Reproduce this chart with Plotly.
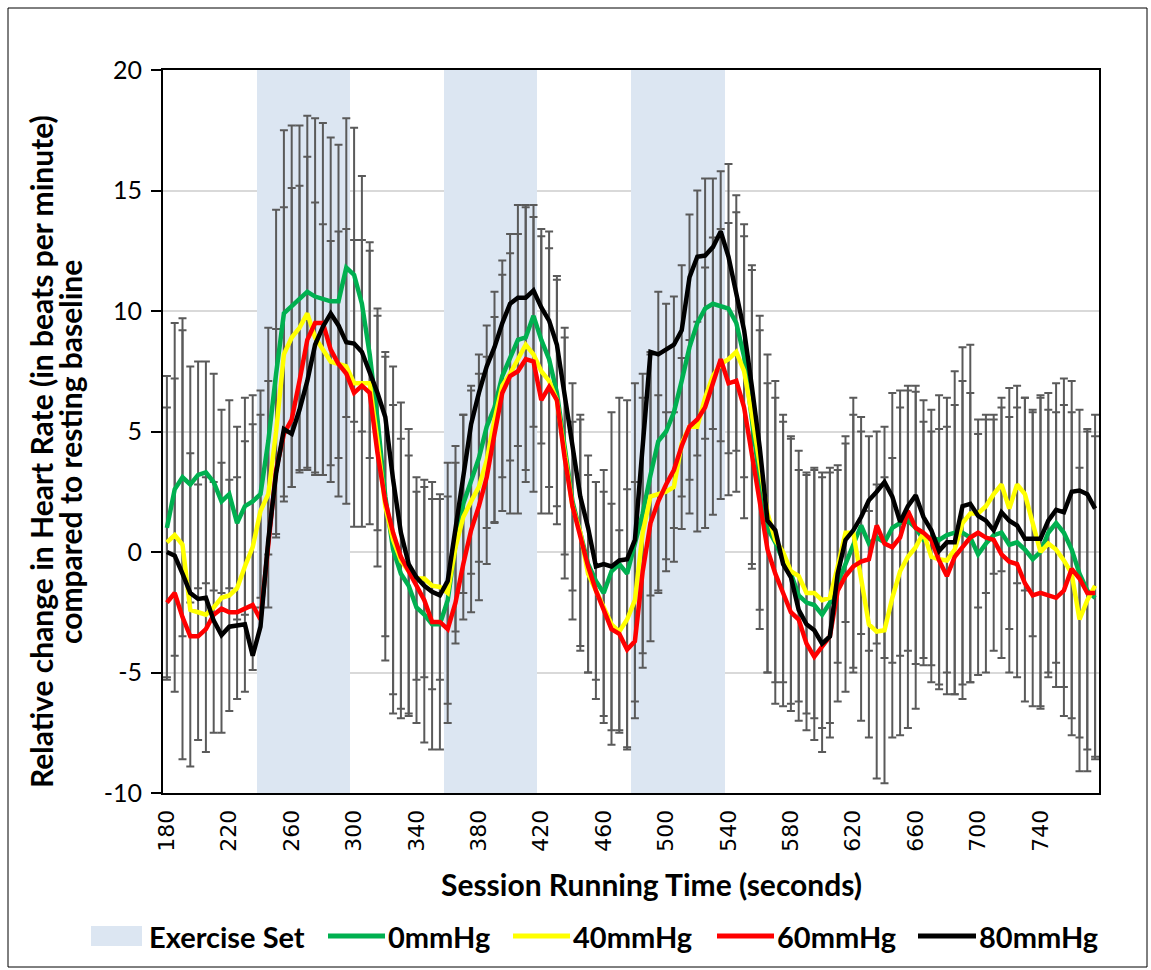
import plotly.graph_objects as go

# Session time (s), one sample every 5 seconds
seconds = list(range(180, 780, 5))

# Mean change in heart rate (bpm) relative to resting baseline
hr_0mmHg = [
    1.0, 2.6, 3.1, 2.8, 3.2, 3.3, 2.9, 2.1, 2.4, 1.2, 1.9, 2.1,
    2.4, 4.6, 7.4, 9.9, 10.2, 10.5, 10.8, 10.6, 10.5, 10.4, 10.4, 11.8,
    11.5, 10.3, 8.2, 5.5, 2.3, 0.1, -0.9, -1.4, -2.3, -2.6, -3.0, -3.0,
    -2.0, 0.3, 2.0, 3.0, 3.9, 5.2, 6.0, 7.3, 8.1, 8.8, 8.9, 9.8,
    8.8, 8.0, 6.6, 4.4, 2.1, 0.8, -0.5, -1.2, -1.7, -0.8, -0.5, -0.9,
    0.4, 1.6, 3.2, 4.6, 5.0, 5.8, 7.1, 8.5, 9.5, 10.1, 10.3, 10.2,
    10.1, 9.5, 8.1, 5.5, 3.0, 1.0, 0.4, -0.35, -0.9, -1.8, -2.1, -2.2,
    -2.6, -2.1, -1.3, -0.5, 0.35, 1.1, 0.35, 0.6, 0.4, 1.0, 1.2, 1.3,
    1.0, 0.5, 0.6, 0.5, 0.7, 0.8, 0.8, 0.6, -0.1, 0.35, 0.7, 0.8,
    0.3, 0.4, 0.1, -0.3, 0.0, 0.8, 1.2, 0.8, 0.1, -0.9, -1.6, -1.9,
]
hr_40mmHg = [
    0.4, 0.7, 0.3, -2.4, -2.5, -2.6, -2.3, -1.9, -1.8, -1.5, -0.6, 0.2,
    1.7, 2.4, 5.0, 8.2, 8.9, 9.3, 9.9, 8.9, 8.4, 7.9, 7.8, 7.7,
    7.0, 7.0, 7.0, 4.6, 1.9, 0.5, -0.35, -0.8, -1.1, -1.1, -1.4, -1.45,
    -1.7, 0.2, 1.45, 2.1, 2.7, 3.8, 5.5, 6.9, 7.4, 8.0, 8.6, 8.2,
    7.5, 7.1, 6.3, 4.1, 1.9, 0.8, -0.9, -1.6, -2.3, -3.0, -3.3, -2.8,
    -2.0, 0.8, 2.3, 2.4, 2.5, 2.7, 4.5, 5.2, 5.2, 6.4, 7.3, 7.8,
    8.0, 8.3, 7.5, 5.7, 3.7, 1.6, 0.5, 0.0, -0.8, -1.0, -1.7, -1.7,
    -2.0, -1.9, -0.6, 0.8, 0.8, -1.0, -3.0, -3.3, -3.25, -1.9, -0.8, -0.2,
    0.2, 0.8, -0.2, -0.3, -0.35, 0.1, 1.2, 1.6, 1.6, 1.9, 2.4, 2.8,
    1.8, 2.8, 2.4, 1.2, 0.0, 0.35, 0.1, -0.35, -0.9, -2.8, -2.0, -1.4,
]
hr_60mmHg = [
    -2.1, -1.7, -2.7, -3.5, -3.5, -3.2, -2.6, -2.35, -2.5, -2.5, -2.35, -2.2,
    -2.8, 0.2, 3.4, 4.9, 5.5, 7.1, 8.8, 9.5, 9.5, 8.4, 7.8, 7.4,
    6.6, 6.9, 6.6, 4.1, 2.1, 0.8, -0.2, -0.8, -1.45, -2.0, -2.9, -2.9,
    -3.2, -2.1, -0.5, 0.9, 1.9, 3.1, 4.9, 6.6, 7.3, 7.5, 8.0, 7.9,
    6.3, 6.85, 6.3, 3.9, 1.9, 0.6, -0.6, -1.6, -2.4, -3.2, -3.4, -4.05,
    -3.7, -0.8, 1.2, 2.1, 2.8, 3.4, 4.4, 5.2, 5.5, 6.0, 7.0, 8.0,
    7.0, 7.1, 6.0, 3.9, 2.1, 0.1, -0.9, -1.7, -2.5, -2.8, -3.8, -4.35,
    -3.9, -3.5, -1.6, -1.0, -0.6, -0.4, -0.3, 1.1, 0.35, 0.2, 0.6, 1.7,
    1.0, 0.8, 0.5, -0.35, -1.0, -0.2, 0.2, 0.6, 0.8, 0.6, 0.5, -0.1,
    -0.4, -0.5, -1.3, -1.8, -1.7, -1.8, -1.9, -1.6, -0.7, -1.1, -1.7, -1.7,
]
hr_80mmHg = [
    0.0, -0.15, -0.9, -1.7, -1.95, -1.9, -2.85, -3.45, -3.1, -3.05, -3.0, -4.3,
    -3.1, 0.5, 3.25, 5.1, 4.9, 5.9, 7.1, 8.6, 9.35, 9.9, 9.4, 8.7,
    8.65, 8.3, 7.5, 6.6, 5.6, 3.0, 0.8, -0.5, -1.05, -1.4, -1.65, -1.8,
    -1.2, 0.9, 3.25, 5.3, 6.6, 7.7, 8.5, 9.5, 10.3, 10.55, 10.55, 10.85,
    10.15, 9.6, 8.6, 6.4, 4.4, 2.3, 1.0, -0.6, -0.5, -0.6, -0.35, -0.3,
    0.5, 4.6, 8.3, 8.2, 8.4, 8.6, 9.2, 11.4, 12.25, 12.3, 12.65, 13.3,
    12.25, 10.7, 9.2, 6.85, 4.35, 1.3, 0.9, -0.5, -1.05, -2.4, -3.0, -3.25,
    -3.8, -3.5, -0.9, 0.5, 0.9, 1.45, 2.15, 2.5, 2.9, 2.3, 1.25, 1.9,
    2.35, 1.45, 0.9, 0.05, 0.4, 0.4, 1.9, 2.0, 1.5, 1.3, 0.9, 1.65,
    1.3, 1.1, 0.55, 0.55, 0.55, 1.3, 1.75, 1.65, 2.5, 2.55, 2.4, 1.8,
]

# Standard deviations (bpm) shown as error bars
sd_0mmHg = [
    6.3, 6.9, 6.6, 4.9, 4.7, 4.6, 4.5, 3.8, 3.9, 4.0, 4.5, 4.4,
    4.3, 4.7, 6.8, 7.6, 7.5, 7.2, 7.3, 7.4, 7.3, 6.8, 6.5, 6.2,
    6.1, 5.3, 4.3, 4.6, 5.8, 6.0, 5.6, 5.4, 4.8, 5.3, 5.2, 5.2,
    4.3, 4.1, 3.7, 3.9, 4.3, 4.2, 4.8, 4.2, 4.3, 4.4, 5.5, 4.6,
    4.3, 5.3, 4.7, 4.5, 4.9, 4.7, 4.5, 4.1, 5.1, 6.6, 6.9, 7.2,
    6.6, 5.8, 5.0, 6.2, 5.3, 4.8, 4.8, 5.5, 5.5, 5.4, 5.2, 5.6,
    6.0, 5.3, 5.0, 6.2, 6.2, 6.0, 6.7, 6.05, 5.7, 5.2, 5.3, 5.6,
    5.7, 5.6, 4.9, 5.3, 5.35, 4.5, 4.45, 4.4, 4.8, 5.6, 5.5, 5.4,
    5.65, 4.9, 5.3, 6.0, 5.7, 6.7, 6.3, 6.0, 5.0, 5.35, 4.8, 5.2,
    5.3, 5.6, 6.3, 6.1, 6.4, 5.8, 5.8, 6.4, 7.0, 6.8, 6.6, 6.7,
]
sd_40mmHg = [
    5.6, 6.5, 8.9, 6.5, 5.3, 5.7, 5.2, 5.6, 4.8, 4.6, 5.2, 5.1,
    4.0, 4.7, 4.25, 6.1, 6.2, 5.9, 6.5, 5.6, 5.2, 5.0, 5.5, 5.7,
    5.95, 5.95, 5.85, 5.2, 6.4, 7.2, 6.55, 5.9, 4.2, 4.1, 4.3, 3.85,
    5.4, 3.5, 4.25, 4.6, 4.7, 4.3, 4.25, 5.2, 5.8, 6.4, 5.7, 5.7,
    5.9, 5.5, 5.15, 5.2, 3.5, 4.9, 4.1, 4.5, 4.8, 5.0, 4.2, 5.4,
    4.9, 5.6, 6.0, 4.1, 3.3, 3.1, 3.55, 3.6, 4.35, 5.4, 5.75, 5.6,
    5.65, 5.8, 6.1, 6.2, 6.1, 6.6, 5.9, 5.4, 5.5, 5.2, 5.0, 5.2,
    5.3, 5.2, 4.0, 3.7, 5.6, 6.0, 4.7, 6.1, 6.35, 5.8, 6.8, 7.1,
    6.7, 5.5, 5.2, 5.4, 5.55, 6.0, 7.3, 7.0, 3.9, 3.6, 3.3, 3.6,
    5.0, 4.1, 4.0, 4.7, 6.5, 5.55, 5.7, 6.45, 6.7, 6.3, 7.1, 7.1,
]

# Exercise sets: first and last sample of each set
exercise_first = [240, 360, 480]
exercise_last = [295, 415, 535]

# Value axis
Y_MIN, Y_MAX = -10, 20
y_ticks = [-10, -5, 0, 5, 10, 15, 20]
y_tick_text = ["-10", "-5", "0", "5", "10", "15", "20"]
x_ticks = list(range(180, 741, 40))

# Plot-area geometry in pixels (figure is 1151 x 970)
W, H = 1151, 970
L, R, T, B = 163, 1099, 70, 793


def px(xp):
    return (xp - L) / (R - L)


def py(yp):
    return (B - yp) / (B - T)


TEXT_FONT = "Lato"
BAND = "#dce6f2"
ERR = "#5a5a5a"
BOLD = dict(family=TEXT_FONT, color="#000000", weight="bold")

fig = go.Figure()

# Exercise-set columns spanning the full value range
band_x = [t for a, b in zip(exercise_first, exercise_last) for t in seconds if a <= t <= b]
fig.add_trace(go.Bar(
    x=band_x, y=[Y_MAX - Y_MIN] * len(band_x), base=Y_MIN, width=5,
    marker=dict(color=BAND, line=dict(width=0)), showlegend=False, hoverinfo="skip",
))

# Error bars drawn beneath all lines
for vals, sd in ((hr_0mmHg, sd_0mmHg), (hr_40mmHg, sd_40mmHg)):
    fig.add_trace(go.Scatter(
        x=seconds, y=vals, mode="markers", marker=dict(size=1, opacity=0),
        error_y=dict(type="data", array=sd, color=ERR, thickness=2, width=4),
        showlegend=False, hoverinfo="skip",
    ))

series = [
    ("0mmHg", hr_0mmHg, "#00b050"),
    ("40mmHg", hr_40mmHg, "#ffff00"),
    ("60mmHg", hr_60mmHg, "#ff0000"),
    ("80mmHg", hr_80mmHg, "#000000"),
]
for name, vals, color in series:
    fig.add_trace(go.Scatter(
        x=seconds, y=vals, mode="lines", name=name,
        line=dict(color=color, width=4.5), showlegend=False,
    ))

shapes = []
annotations = []

# Outer chart border
shapes.append(dict(type="rect", xref="paper", yref="paper",
                   x0=px(8), x1=px(1147), y0=py(967), y1=py(8),
                   line=dict(color="#000000", width=1), fillcolor="rgba(0,0,0,0)", layer="below"))

# Legend row
leg_y = 936
shapes.append(dict(type="rect", xref="paper", yref="paper",
                   x0=px(91), x1=px(142), y0=py(946), y1=py(926),
                   fillcolor=BAND, line=dict(width=0)))
annotations.append(dict(text="Exercise Set", x=px(147), y=py(leg_y), xref="paper", yref="paper",
                        xanchor="left", yanchor="middle", showarrow=False,
                        font=dict(BOLD, size=29)))
legend_items = [(328, 385, "0mmHg", "#00b050"), (513, 570, "40mmHg", "#ffff00"),
                (717, 774, "60mmHg", "#ff0000"), (918, 976, "80mmHg", "#000000")]
for x0, x1, label, color in legend_items:
    shapes.append(dict(type="line", xref="paper", yref="paper",
                       x0=px(x0), x1=px(x1), y0=py(leg_y), y1=py(leg_y),
                       line=dict(color=color, width=5)))
    annotations.append(dict(text=label, x=px(x1 + 1), y=py(leg_y), xref="paper", yref="paper",
                            xanchor="left", yanchor="middle", showarrow=False,
                            font=dict(BOLD, size=29)))

# Axis titles
annotations.append(dict(text="Session Running Time (seconds)", x=px(651), y=py(884),
                        xref="paper", yref="paper", xanchor="center", yanchor="middle",
                        showarrow=False, font=dict(BOLD, size=30)))
y_title_lines = [("Relative change in Heart Rate (in beats per minute)", 41),
                 ("compared to resting baseline", 70)]
for text, xc in y_title_lines:
    annotations.append(dict(text=text, x=px(xc), y=py(452), xref="paper", yref="paper",
                            xanchor="center", yanchor="middle", textangle=-90, showarrow=False,
                            font=dict(BOLD, size=30)))

fig.update_layout(
    width=W, height=H,
    margin=dict(l=L, r=W - R, t=T, b=H - B),
    paper_bgcolor="#ffffff", plot_bgcolor="#ffffff",
    bargap=0,
    shapes=shapes, annotations=annotations,
    showlegend=False,
)
fig.update_xaxes(
    range=[177.5, 777.5], tickmode="array", tickvals=x_ticks,
    tickangle=-90, ticks="", showgrid=False, zeroline=False,
    showline=True, linecolor="#000000", linewidth=2, mirror=True,
    tickfont=dict(family="DejaVu Sans", size=22, color="#000000"),
    ticklabelstandoff=6,
)
fig.update_yaxes(
    range=[Y_MIN, Y_MAX], tickmode="array", tickvals=y_ticks, ticktext=y_tick_text,
    ticks="outside", ticklen=10, tickwidth=2, tickcolor="#000000",
    showgrid=True, gridcolor="#d9d9d9", gridwidth=1.5, zeroline=False,
    showline=True, linecolor="#000000", linewidth=2, mirror=True,
    tickfont=dict(family=TEXT_FONT, size=25, color="#000000"),
    ticklabelstandoff=4,
)

fig.write_html("out.html")
